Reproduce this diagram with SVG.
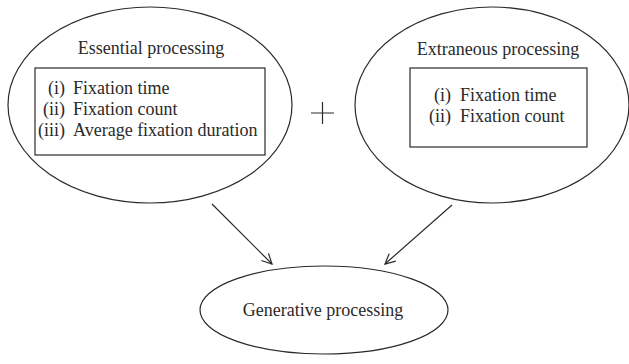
<svg xmlns="http://www.w3.org/2000/svg" width="629" height="364" viewBox="0 0 629 364">
<defs>
<style>
.shape{fill:none;stroke:#2a2a2a;stroke-width:1.2}
.t{font-family:"Liberation Serif","Times New Roman",serif;font-size:18px;fill:#2a2a2a}
.c{text-anchor:middle}
.r{text-anchor:end}
.conn{fill:none;stroke:#2a2a2a;stroke-width:1.2}
</style>
<marker id="arr" viewBox="0 0 12 12" refX="11" refY="6" markerWidth="12" markerHeight="12" markerUnits="userSpaceOnUse" orient="auto">
<path d="M1,1 L11,6 L1,11" fill="none" stroke="#2a2a2a" stroke-width="1.2"/>
</marker>
</defs>
<rect width="629" height="364" fill="#fff"/>
<g id="essential">
<ellipse class="shape" cx="150" cy="105" rx="142" ry="98"/>
<text class="t c" x="151" y="54">Essential processing</text>
<rect class="shape" x="35" y="68" width="230" height="87"/>
<text class="t r" x="65" y="94">(i)</text>
<text class="t" x="73" y="94">Fixation time</text>
<text class="t r" x="65" y="115">(ii)</text>
<text class="t" x="73" y="115">Fixation count</text>
<text class="t r" x="65" y="136">(iii)</text>
<text class="t" x="73" y="136">Average fixation duration</text>
</g>
<g id="plus">
<path class="shape" d="M311,113 H334 M322.5,102 V124"/>
</g>
<g id="extraneous">
<ellipse class="shape" cx="492" cy="105" rx="137" ry="98"/>
<text class="t c" x="498" y="55">Extraneous processing</text>
<rect class="shape" x="410" y="68" width="177" height="79"/>
<text class="t r" x="451" y="101">(i)</text>
<text class="t" x="460" y="101">Fixation time</text>
<text class="t r" x="451" y="122">(ii)</text>
<text class="t" x="460" y="122">Fixation count</text>
</g>
<g id="generative">
<ellipse class="shape" cx="324" cy="310" rx="124" ry="44"/>
<text class="t c" x="323" y="316">Generative processing</text>
</g>
<g id="connectors">
<line class="conn" x1="212" y1="204" x2="272" y2="264" marker-end="url(#arr)"/>
<line class="conn" x1="452" y1="205" x2="385" y2="264" marker-end="url(#arr)"/>
</g>
</svg>
